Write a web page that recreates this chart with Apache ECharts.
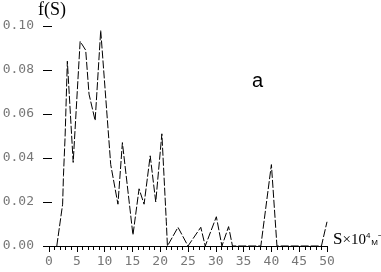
<!DOCTYPE html>
<html>
<head>
<meta charset="utf-8">
<script src="https://cdn.jsdelivr.net/npm/echarts@6/dist/echarts.min.js"></script>
<style>
html,body{margin:0;padding:0;background:#fff;}
#c{width:381px;height:272px;}
</style>
</head>
<body>
<div id="c"></div>
<script>
// S values (x 10^4 M^-1)
var sVals = [1.4, 2.45, 2.6, 2.9, 3.3, 4.35, 5.6, 6.6, 7.2, 8.3, 9.3, 11.1, 12.4, 13.2, 15.1, 16.2, 17.1, 18.2, 19.2, 20.3, 21.1, 21.3, 23.2, 25.0, 27.3, 28.1, 30.1, 31.1, 32.3, 33.0, 38.1, 40.0, 41.0, 49.0, 50.0];
// f(S) values
var fVals = [0, 0.019, 0.032, 0.050, 0.084, 0.038, 0.093, 0.089, 0.069, 0.057, 0.098, 0.037, 0.019, 0.047, 0.005, 0.026, 0.019, 0.041, 0.020, 0.051, 0.011, 0, 0.0085, 0, 0.0085, 0, 0.0133, 0, 0.0088, 0, 0, 0.037, 0, 0, 0.011];
var xTicks = [0, 5, 10, 15, 20, 25, 30, 35, 40, 45, 50];
var yTicks = [0.00, 0.02, 0.04, 0.06, 0.08, 0.10];

var data = sVals.map(function (s, i) { return [s, fVals[i]]; });
var chart = echarts.init(document.getElementById('c'), null, {renderer: 'canvas'});
var labelFont = {color: '#777', fontFamily: 'DejaVu Sans Mono', fontSize: 13};
chart.setOption({
  animation: false,
  backgroundColor: '#fff',
  title: {
    text: 'a', left: 247, top: 66,
    textStyle: {fontFamily: 'Liberation Sans', fontSize: 20, fontWeight: 'normal', color: '#000'}
  },
  grid: {left: 49, right: 54, top: 26, bottom: 26, containLabel: false, outerBoundsMode: 'none'},
  xAxis: {
    type: 'value', min: xTicks[0], max: xTicks[xTicks.length - 1], interval: 5,
    axisLine: {show: true, lineStyle: {color: '#000', width: 1}},
    axisTick: {show: true, length: 6, lineStyle: {color: '#000'}},
    minorTick: {show: true, splitNumber: 5, length: 4, lineStyle: {color: '#000'}},
    splitLine: {show: false},
    axisLabel: Object.assign({margin: 9}, labelFont),
    name: '{s|S}{x|×10}{sup|4}{m|M}{sup|−1}',
    nameLocation: 'end', nameGap: 6,
    nameTextStyle: {
      padding: [0, 0, 12, 0],
      rich: {
        s: {fontFamily: 'Liberation Serif', fontSize: 17, color: '#000'},
        x: {fontFamily: 'Liberation Serif', fontSize: 15, color: '#000'},
        sup: {fontFamily: 'Liberation Sans', fontSize: 8, color: '#000', verticalAlign: 'top', padding: [0, 0, 9, 0]},
        m: {fontFamily: 'Liberation Sans', fontSize: 8, color: '#000', padding: [6, 0, 0, 1]}
      }
    }
  },
  yAxis: {
    type: 'value', min: yTicks[0], max: yTicks[yTicks.length - 1], interval: 0.02,
    offset: -3,
    axisLine: {show: false},
    axisTick: {show: true, length: 9, lineStyle: {color: '#000'}},
    splitLine: {show: false},
    axisLabel: Object.assign({margin: 18, formatter: function (v) { return v.toFixed(2); }}, labelFont),
    name: 'f(S)', nameLocation: 'end', nameGap: 4,
    nameTextStyle: {fontFamily: 'Liberation Serif', fontSize: 18, color: '#000', align: 'center'}
  },
  series: [{
    type: 'line', data: data, showSymbol: false, smooth: false,
    lineStyle: {color: '#000', width: 1, type: [8, 2]}
  }]
});
</script>
</body>
</html>
